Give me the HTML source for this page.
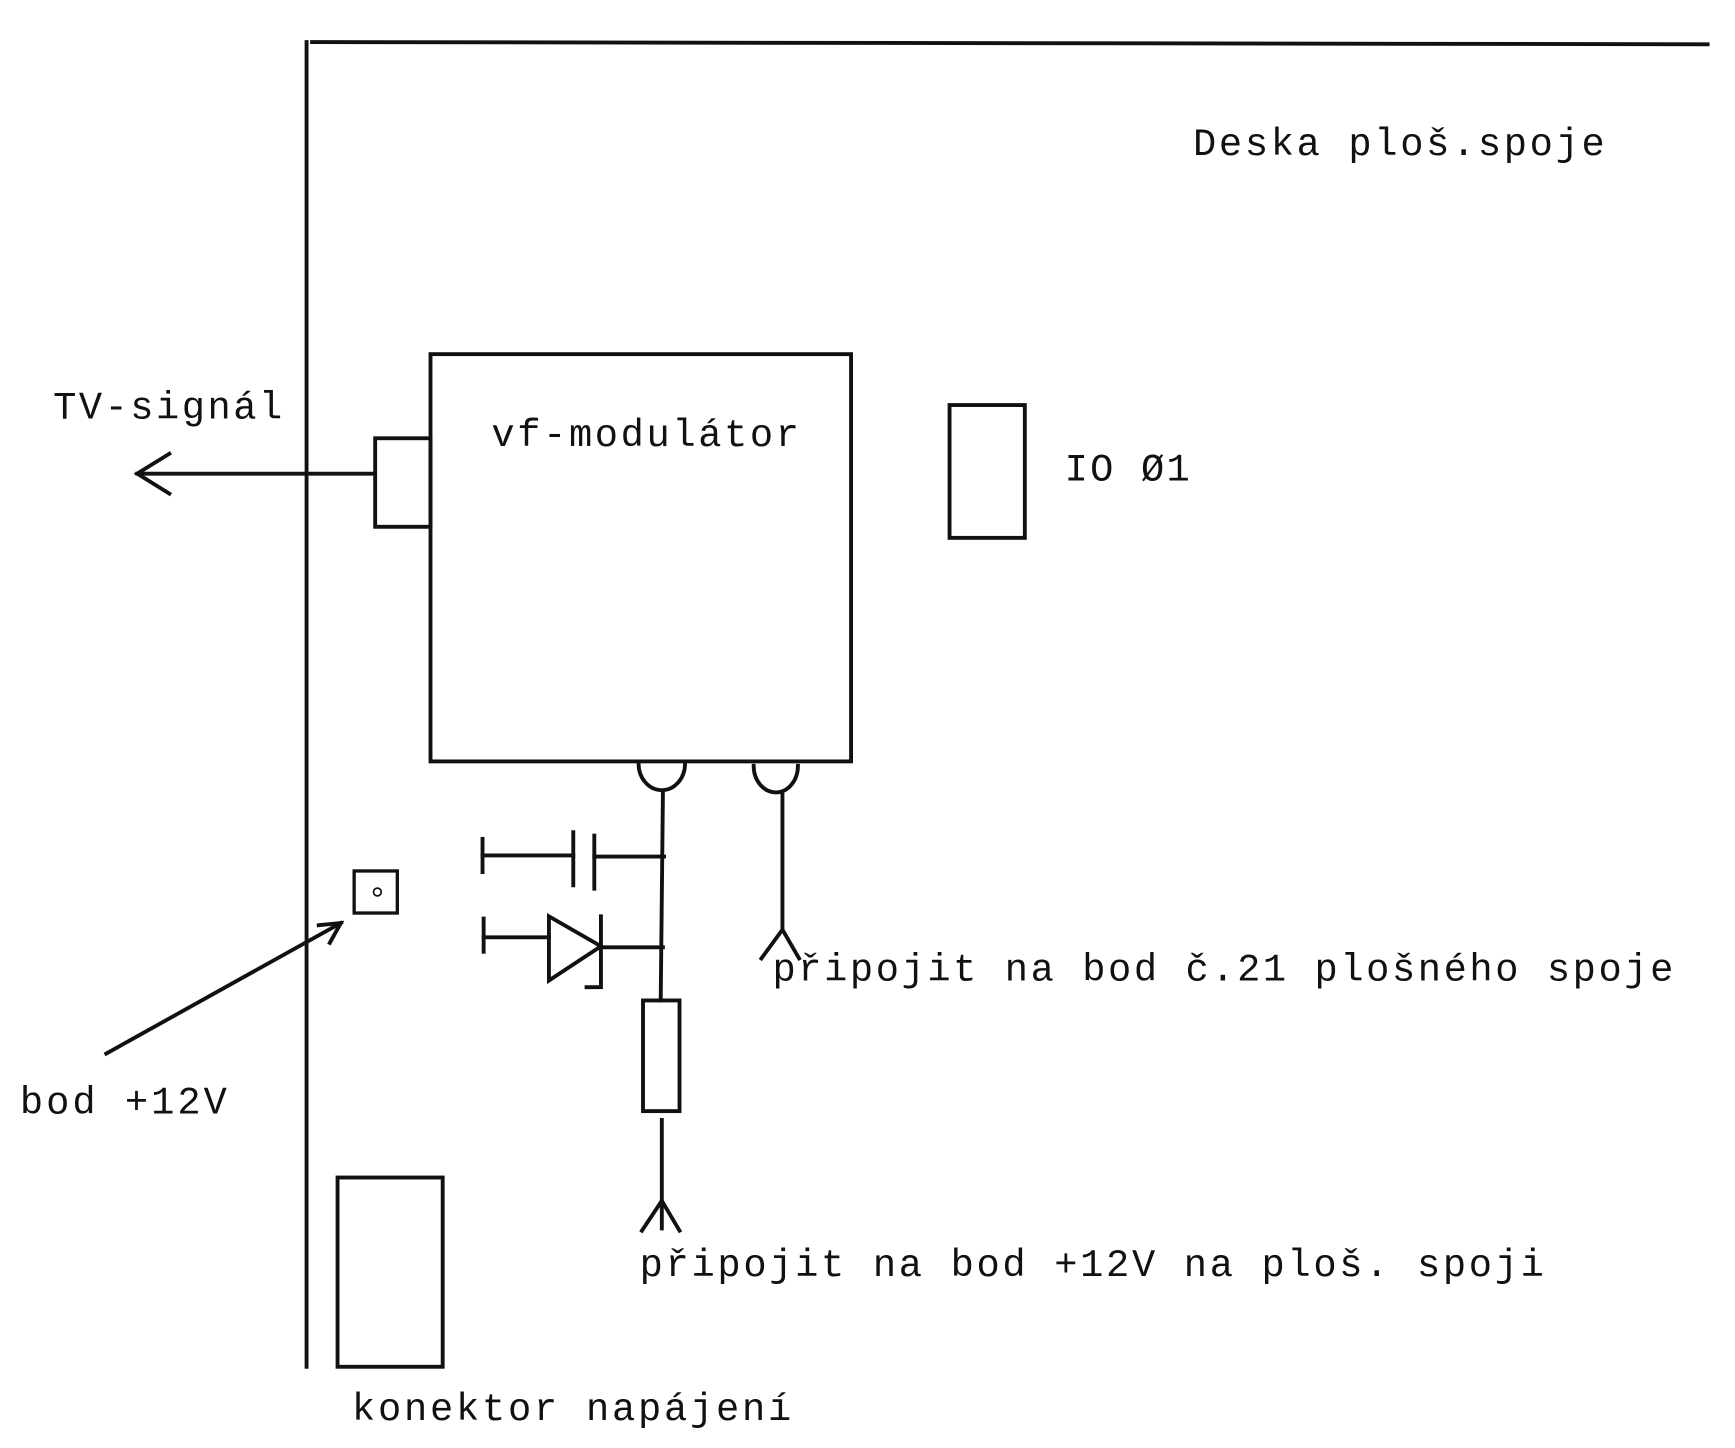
<!DOCTYPE html>
<html><head><meta charset="utf-8"><style>
html,body{margin:0;padding:0;background:#fff;}
svg{display:block;}
text{font-family:"Liberation Mono",monospace;font-size:35px;fill:#111;}
</style></head><body>
<svg width="1735" height="1448" viewBox="0 0 1567.7 1308.4" preserveAspectRatio="none">
<g stroke="#111" stroke-width="3.5" fill="none" stroke-linecap="square">
<line x1="282" y1="38" x2="1543" y2="40"/>
<line x1="277" y1="38" x2="277" y2="1235"/>
<line x1="124" y1="428" x2="338" y2="428"/>
<polyline points="153,410 124,428 153,446"/>
<rect x="339" y="396" width="50" height="80"/>
<rect x="389" y="320" width="380" height="368"/>
<rect x="858" y="366" width="68" height="120"/>
<path d="M577,690 A21,24 0 0 0 619,690"/>
<path d="M681,692 A20,24 0 0 0 721,692"/>
<line x1="599" y1="716" x2="597" y2="904"/>
<rect x="581" y="904" width="33" height="100"/>
<line x1="598" y1="1012" x2="598" y2="1110"/>
<polyline points="580,1112 598,1085 614,1112"/>
<line x1="707" y1="718" x2="707" y2="840"/>
<polyline points="688,866 707,840 722,866"/>
<line x1="436" y1="758" x2="436" y2="788"/>
<line x1="436" y1="773" x2="518" y2="773"/>
<line x1="518" y1="752" x2="518" y2="800"/>
<line x1="537" y1="755" x2="537" y2="803"/>
<line x1="537" y1="774" x2="600" y2="774"/>
<line x1="437" y1="830" x2="437" y2="860"/>
<line x1="437" y1="847" x2="496" y2="847"/>
<polygon points="496,828 496,886 543,855"/>
<polyline points="543,828 543,892 530,892"/>
<line x1="543" y1="856" x2="599" y2="856"/>
<rect x="320" y="787" width="39" height="38" stroke-width="3"/>
<circle cx="341" cy="806" r="3.5" stroke-width="1.5"/>
<line x1="96" y1="952" x2="308" y2="834"/>
<polyline points="288,836 308,834 298,852"/>
<rect x="305" y="1064" width="95" height="171"/>
</g>
<text x="1078" y="140" textLength="372">Deska ploš.spoje</text>
<text x="48" y="378" textLength="207">TV-signál</text>
<text x="444" y="403" textLength="278">vf-modulátor</text>
<text x="962" y="434" textLength="113">IO Ø1</text>
<text x="18" y="1006" textLength="187">bod +12V</text>
<text x="698" y="886" textLength="814">připojit na bod č.21 plošného spoje</text>
<text x="578" y="1153" textLength="817">připojit na bod +12V na ploš. spoji</text>
<text x="318" y="1283" textLength="397">konektor napájení</text>
</svg>
</body></html>
